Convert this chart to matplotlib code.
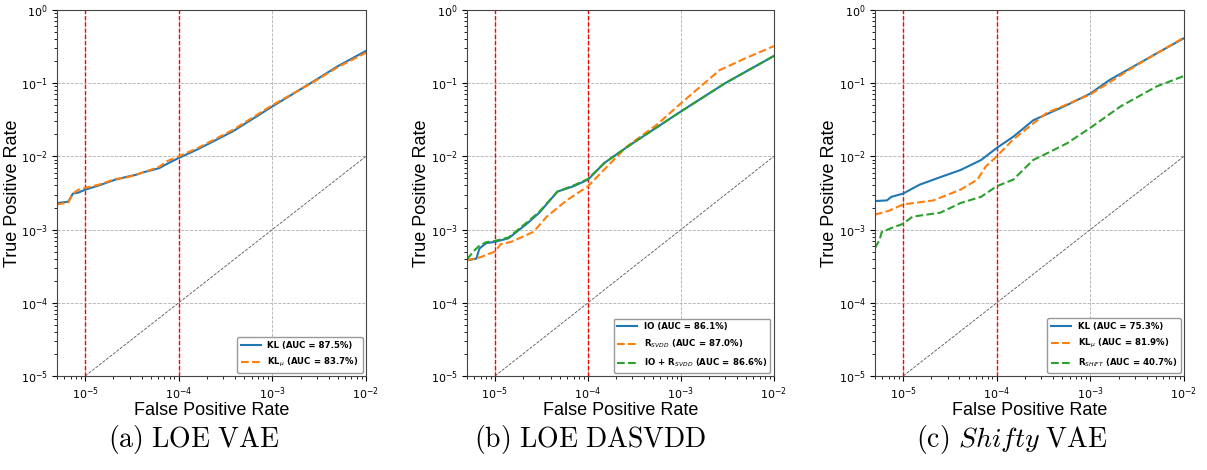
import matplotlib
matplotlib.use("Agg")
import matplotlib.pyplot as plt
from matplotlib.ticker import LogLocator, NullFormatter
import numpy as np

plt.rcParams['mathtext.fontset'] = 'dejavusans'

# ---------------- data ----------------
# Panel (a) LOE VAE
a_kl_fpr = [5e-6, 6.6e-6, 7.4e-6, 8.5e-6, 1e-5, 1.4e-5, 2.1e-5, 2.7e-5, 3.5e-5, 4.1e-5, 6.2e-5, 7.5e-5, 1e-4,
            1.6e-4, 3.8e-4, 1e-3, 2.7e-3, 5e-3, 1e-2]
a_kl_tpr = [2.3e-3, 2.4e-3, 3.1e-3, 3.2e-3, 3.5e-3, 4.0e-3, 4.8e-3, 5.2e-3, 5.6e-3, 6.0e-3, 6.9e-3, 7.9e-3, 9.5e-3,
            1.25e-2, 2.2e-2, 4.8e-2, 1.04e-1, 1.7e-1, 2.75e-1]
a_klmu_fpr = [5e-6, 6.6e-6, 7.4e-6, 8.5e-6, 1e-5, 1.4e-5, 2.1e-5, 2.7e-5, 3.5e-5, 4.1e-5, 6.2e-5, 7.5e-5, 1e-4,
              1.6e-4, 3.8e-4, 1e-3, 2.7e-3, 5e-3, 1e-2]
a_klmu_tpr = [2.2e-3, 2.35e-3, 3.1e-3, 3.5e-3, 3.7e-3, 4.1e-3, 4.9e-3, 5.1e-3, 5.6e-3, 6.0e-3, 7.2e-3, 8.6e-3, 1.0e-2,
              1.3e-2, 2.3e-2, 5.0e-2, 1.02e-1, 1.65e-1, 2.6e-1]

# Panel (b) LOE DASVDD
b_io_fpr = [5e-6, 6.3e-6, 6.8e-6, 8e-6, 1e-5, 1.4e-5, 2.2e-5, 3.0e-5, 4.7e-5, 7e-5, 1e-4, 1.5e-4, 2.0e-4,
            3.0e-4, 1e-3, 3e-3, 1e-2]
b_io_tpr = [3.8e-4, 4.0e-4, 5.5e-4, 6.5e-4, 6.8e-4, 7.6e-4, 1.2e-3, 1.7e-3, 3.3e-3, 3.9e-3, 4.8e-3, 8.1e-3, 1.05e-2,
            1.5e-2, 4.1e-2, 1.0e-1, 2.35e-1]
b_sv_fpr = [5e-6, 7e-6, 1e-5, 1.15e-5, 1.5e-5, 2.6e-5, 3.6e-5, 5.9e-5, 1e-4, 1.6e-4, 2.6e-4, 5.5e-4, 1e-3,
            2.6e-3, 5e-3, 1e-2]
b_sv_tpr = [3.8e-4, 4.2e-4, 5.0e-4, 6.3e-4, 6.8e-4, 9.3e-4, 1.5e-3, 2.5e-3, 3.9e-3, 7.2e-3, 1.35e-2, 2.7e-2, 5.3e-2,
            1.5e-1, 2.2e-1, 3.2e-1]
b_io_sv_fpr = [5e-6, 6.0e-6, 6.8e-6, 8e-6, 1e-5, 1.4e-5, 2.2e-5, 3.0e-5, 4.7e-5, 7e-5, 1e-4, 1.5e-4, 2.0e-4,
               3.0e-4, 1e-3, 3e-3, 1e-2]
b_io_sv_tpr = [3.9e-4, 5.2e-4, 6.0e-4, 6.7e-4, 7.0e-4, 7.8e-4, 1.25e-3, 1.75e-3, 3.3e-3, 4.0e-3, 4.9e-3, 8.1e-3, 1.05e-2,
               1.5e-2, 4.1e-2, 1.0e-1, 2.35e-1]

# Panel (c) Shifty VAE
c_kl_fpr = [5e-6, 6.7e-6, 7.5e-6, 1e-5, 1.5e-5, 2.5e-5, 4.1e-5, 6.8e-5, 1e-4, 1.5e-4, 2.45e-4, 5.6e-4, 1e-3,
            1.6e-3, 4.7e-3, 1e-2]
c_kl_tpr = [2.45e-3, 2.5e-3, 2.8e-3, 3.1e-3, 4.1e-3, 5.2e-3, 6.5e-3, 8.9e-3, 1.3e-2, 1.85e-2, 3.1e-2, 5.0e-2, 7.2e-2,
            1.1e-1, 2.4e-1, 4.1e-1]
c_klmu_fpr = [5e-6, 7e-6, 1e-5, 2.1e-5, 4.1e-5, 6.2e-5, 7.6e-5, 1e-4, 1.5e-4, 3.4e-4, 1e-3, 3e-3, 1e-2]
c_klmu_tpr = [1.6e-3, 1.8e-3, 2.2e-3, 2.5e-3, 3.5e-3, 4.8e-3, 7.2e-3, 1.0e-2, 1.7e-2, 3.9e-2, 7.0e-2, 1.7e-1, 4.2e-1]
c_sh_fpr = [5e-6, 5.6e-6, 5.9e-6, 7.5e-6, 1e-5, 1.26e-5, 2.5e-5, 4.1e-5, 6.8e-5, 1e-4, 1.5e-4, 2.45e-4, 3.7e-4,
            5.6e-4, 1e-3, 2.1e-3, 5.1e-3, 1e-2]
c_sh_tpr = [5.6e-4, 7.2e-4, 9.2e-4, 1.05e-3, 1.2e-3, 1.5e-3, 1.7e-3, 2.3e-3, 2.8e-3, 3.9e-3, 4.8e-3, 8.9e-3, 1.15e-2,
            1.5e-2, 2.45e-2, 4.8e-2, 9.0e-2, 1.25e-1]

panels = [
    dict(pos=[0.0472, 0.2, 0.256, 0.779], caption=r"$\mathrm{(a)\ LOE\ VAE}$", cap_x=194, ylab_x=-0.118,
         series=[(a_kl_fpr, a_kl_tpr, '#1f77b4', '-', 'KL (AUC = 87.5%)'),
                 (a_klmu_fpr, a_klmu_tpr, '#ff7f0e', '--', r'KL$_{\mu}$ (AUC = 83.7%)')]),
    dict(pos=[0.3869, 0.2, 0.2543, 0.779], caption=r"$\mathrm{(b)\ LOE\ DASVDD}$", cap_x=590, ylab_x=-0.119,
         series=[(b_io_fpr, b_io_tpr, '#1f77b4', '-', 'IO (AUC = 86.1%)'),
                 (b_sv_fpr, b_sv_tpr, '#ff7f0e', '--', r'R$_{SVDD}$ (AUC = 87.0%)'),
                 (b_io_sv_fpr, b_io_sv_tpr, '#2ca02c', '--', r'IO + R$_{SVDD}$ (AUC = 86.6%)')]),
    dict(pos=[0.7249, 0.2, 0.256, 0.779], caption=r"$\mathrm{(c)}\ \mathit{Shifty}\ \mathrm{VAE}$", cap_x=1012, ylab_x=-0.118,
         series=[(c_kl_fpr, c_kl_tpr, '#1f77b4', '-', 'KL (AUC = 75.3%)'),
                 (c_klmu_fpr, c_klmu_tpr, '#ff7f0e', '--', r'KL$_{\mu}$ (AUC = 81.9%)'),
                 (c_sh_fpr, c_sh_tpr, '#2ca02c', '--', r'R$_{SHIFT}$ (AUC = 40.7%)')]),
]

fig = plt.figure(figsize=(12.07, 4.70), dpi=100)

for p in panels:
    ax = fig.add_axes(p['pos'])
    ax.set_xscale('log')
    ax.set_yscale('log')
    ax.set_xlim(5e-6, 1e-2)
    ax.set_ylim(1e-5, 1)
    for axis in (ax.xaxis, ax.yaxis):
        axis.set_major_locator(LogLocator(base=10, numticks=20))
        axis.set_minor_locator(LogLocator(base=10, subs=np.arange(2, 10), numticks=20))
        axis.set_minor_formatter(NullFormatter())
    ax.grid(True, which='major', linestyle='--', color='#b0b0b0', linewidth=0.6)
    ax.set_axisbelow(True)
    ax.plot([1e-5, 1e-2], [1e-5, 1e-2], linestyle='--', color='#555555', linewidth=0.6)
    for xv in [1e-5, 1e-4]:
        ax.axvline(xv, color='red', linestyle=(0, (3, 1.5)), linewidth=1.0)
    for fx, ty, col, ls, lab in p['series']:
        ax.plot(fx, ty, color=col, linestyle=ls, linewidth=1.5, label=lab)
    ax.tick_params(axis='both', which='major', labelsize=8, length=3.5, pad=3)
    ax.tick_params(axis='both', which='minor', length=2.5, width=0.6)
    for s in ax.spines.values():
        s.set_color('#444444')
    ax.set_xlabel('False Positive Rate', fontsize=13, family='Liberation Sans')
    ax.set_ylabel('True Positive Rate', fontsize=13, family='Liberation Sans')
    ax.xaxis.set_label_coords(0.5, -0.071)
    ax.yaxis.set_label_coords(p['ylab_x'], 0.5)
    ax.legend(loc='lower right', prop={'size': 6.2, 'weight': 'bold'}, handlelength=2.3,
              labelspacing=0.75, borderaxespad=0.4, fancybox=True, framealpha=1.0, edgecolor='#999999')
    fig.text(p['cap_x'] / 1207, 1 - 440 / 470, p['caption'], fontsize=20, ha='center', va='center',
             math_fontfamily='cm')

fig.savefig('out.png', dpi=100)
